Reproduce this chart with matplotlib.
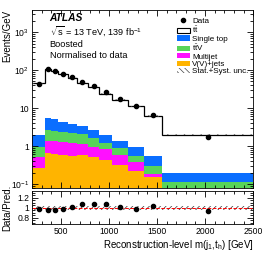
"""Boosted m(j1, th) distribution with data/prediction ratio."""
import matplotlib
matplotlib.use("Agg")
import matplotlib.pyplot as plt
import numpy as np
from matplotlib.patches import Patch
from matplotlib.lines import Line2D
from matplotlib.ticker import FixedLocator, MultipleLocator, LogLocator, NullFormatter

plt.rcParams["font.family"] = ["Liberation Sans", "DejaVu Sans"]
plt.rcParams["mathtext.fontset"] = "custom"
plt.rcParams["mathtext.rm"] = "Liberation Sans"
plt.rcParams["mathtext.it"] = "Liberation Sans:italic"
plt.rcParams["hatch.linewidth"] = 0.5

# bin edges in GeV
edges = [200, 340, 400, 470, 570, 670, 780, 900, 1030, 1200, 1360, 1550, 2500]

# events / GeV
data = [44, 105, 93, 79, 64, 49, 38, 26, 17, 11, 6.5, 1.75]
ttbar = [42.7, 103.3, 91.2, 75.7, 58.9, 42.4, 32.9, 22.0, 15.3, 10.2, 5.7, 1.8]
single_top = [0.99, 2.9, 2.7, 1.99, 1.64, 1.29, 1.04, 0.73, 0.51, 0.38, 0.26, 0.075]
ttv = [0.44, 1.22, 1.17, 1.08, 0.98, 0.94, 0.64, 0.40, 0.29, 0.19, 0.12, 0.105]
multijet = [0.26, 0.74, 0.72, 0.72, 0.63, 0.55, 0.46, 0.39, 0.26, 0.15, 0.03, 0.005]
vjets = [0.26, 0.64, 0.61, 0.58, 0.55, 0.58, 0.50, 0.43, 0.32, 0.22, 0.15, 0.005]

# data / prediction and relative uncertainty
ratio = [0.986, 0.965, 0.965, 0.986, 1.02, 1.07, 1.07, 1.085, 1.02, 0.986, 1.035, 0.944]
rel_unc = [0.045, 0.045, 0.045, 0.045, 0.045, 0.045, 0.045, 0.045, 0.045, 0.045, 0.045, 0.045]

colors = {
    "vjets": "#ffb400",
    "multijet": "#ff10ff",
    "ttv": "#58d458",
    "single_top": "#0a6eff",
}

edges = np.array(edges)
centers = 0.5 * (edges[1:] + edges[:-1])

fig = plt.figure(figsize=(2.66, 2.58), dpi=100)
ax = fig.add_axes([0.12, 0.271, 0.832, 0.690])
rax = fig.add_axes([0.12, 0.132, 0.832, 0.128], sharex=ax)

# stacked backgrounds
bottom = np.zeros(len(data))
for key, vals in [("vjets", vjets), ("multijet", multijet), ("ttv", ttv), ("single_top", single_top)]:
    top = bottom + np.array(vals)
    ax.stairs(top, edges, baseline=bottom, fill=True, color=colors[key], lw=0)
    bottom = top
total = bottom + np.array(ttbar)
ax.stairs(total, edges, baseline=None, color="black", lw=0.9)

unc = total * np.array(rel_unc)
ax.stairs(total + unc, edges, baseline=total - unc, fill=True, facecolor="none",
          edgecolor="#555555", hatch="\\\\\\\\", lw=0)
ax.plot(centers, data, "o", color="black", ms=3.0)

ax.set_yscale("log")
ax.set_ylim(0.078, 3800)
ax.set_xlim(200, 2500)
ax.yaxis.set_major_locator(FixedLocator([0.1, 1, 10, 100, 1000]))
ax.yaxis.set_major_formatter(plt.FuncFormatter(
    lambda v, p: {0.1: "$10^{-1}$", 1: "1", 10: "10", 100: "$10^2$", 1000: "$10^3$"}.get(round(v, 1), "")))
ax.yaxis.set_minor_locator(LogLocator(base=10, subs=np.arange(2, 10)))
ax.yaxis.set_minor_formatter(NullFormatter())
ax.set_ylabel("Events/GeV", loc="top", fontsize=7)
ax.yaxis.set_label_coords(-0.088, 1.0)
ax.tick_params(labelbottom=False)

ax.text(0.08, 0.938, "ATLAS", transform=ax.transAxes, fontsize=7.4, fontweight="bold",
        fontstyle="italic", va="baseline")
ax.text(0.08, 0.860, r"$\sqrt{\rm s}$ = 13 TeV, 139 fb$^{-1}$", transform=ax.transAxes,
        fontsize=6.6, va="baseline")
ax.text(0.08, 0.795, "Boosted", transform=ax.transAxes, fontsize=6.6, va="baseline")
ax.text(0.08, 0.733, "Normalised to data", transform=ax.transAxes, fontsize=6.6, va="baseline")

handles = [
    Line2D([], [], marker="o", ls="none", color="black", ms=3.0),
    Patch(facecolor="white", edgecolor="black", lw=0.8),
    Patch(facecolor=colors["single_top"]),
    Patch(facecolor=colors["ttv"]),
    Patch(facecolor=colors["multijet"]),
    Patch(facecolor=colors["vjets"]),
    Patch(facecolor="none", edgecolor="#444444", hatch="\\\\\\\\\\\\", lw=0),
]
labels = ["Data", r"t$\bar{\rm t}$", "Single top", r"t$\bar{\rm t}$V", "Multijet",
          "V(V)+jets", "Stat.+Syst. unc."]
ax.legend(handles, labels, loc="upper right", bbox_to_anchor=(1.0, 0.985), frameon=False,
          fontsize=5.8, handlelength=1.6, handleheight=0.6, labelspacing=0.0,
          handletextpad=0.3, borderaxespad=0.2)

# ratio panel
ones = np.ones(len(data))
rax.stairs(ones + np.array(rel_unc), edges, baseline=ones - np.array(rel_unc), fill=True,
           facecolor="none", edgecolor="#333333", hatch="//////", lw=0)
rax.axhline(1, color="red", ls="--", lw=0.7)
rax.plot(centers, ratio, "o", color="black", ms=3.0)
rax.set_ylim(0.68, 1.34)
rax.yaxis.set_major_locator(FixedLocator([0.8, 1.0, 1.2]))
rax.yaxis.set_major_formatter(plt.FuncFormatter(lambda v, p: f"{v:g}"))
rax.yaxis.set_minor_locator(MultipleLocator(0.05))
rax.xaxis.set_major_locator(MultipleLocator(500))
rax.xaxis.set_minor_locator(MultipleLocator(100))
rax.set_ylabel("Data/Pred.", fontsize=7)
rax.yaxis.set_label_coords(-0.088, 0.5)
rax.set_xlabel(r"Reconstruction-level m(j$_{\rm 1}$,t$_{\rm h}$) [GeV]", loc="right",
               fontsize=7, labelpad=2)

for a in (ax, rax):
    a.tick_params(which="both", direction="in", top=True, right=True, labelsize=6.2,
                  width=0.6, pad=2)
    a.tick_params(which="major", length=4)
    a.tick_params(which="minor", length=2)
    for s in a.spines.values():
        s.set_linewidth(0.6)

fig.savefig("out.png", dpi=100)
